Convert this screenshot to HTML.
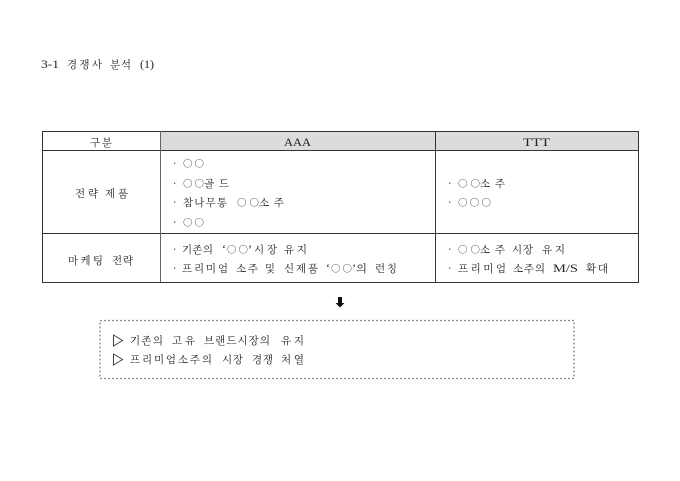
<!DOCTYPE html>
<html lang="ko">
<head>
<meta charset="utf-8">
<style>
html,body{margin:0;padding:0;background:#fff;width:680px;height:481px;overflow:hidden}
svg{display:block}
text{font-family:"Noto Serif CJK KR","Noto Serif CJK SC","Liberation Serif",serif;font-size:10.500px;fill:#222}
text.l{font-family:"Liberation Serif",serif;font-size:12px;fill:#222}
text.c{font-size:9.500px;fill:#333}
</style>
</head>
<body>
<svg width="680" height="481" viewBox="0 0 680 481" xmlns="http://www.w3.org/2000/svg">
<rect width="680" height="481" fill="#fff"/>
<text class="l" x="41" y="68" textLength="18" lengthAdjust="spacingAndGlyphs">3-1</text>
<text x="67" y="68" textLength="35" lengthAdjust="spacing">경쟁사</text>
<text x="110" y="68" textLength="21" lengthAdjust="spacing">분석</text>
<text class="l" x="140" y="68" textLength="14" lengthAdjust="spacingAndGlyphs">(1)</text>

<rect x="160" y="131" width="478" height="19" fill="#dcdcdc"/>
<g stroke="#333" stroke-width="1" fill="none" shape-rendering="crispEdges">
<rect x="42.500" y="131.500" width="596" height="151"/>
<line x1="42" y1="150.500" x2="638" y2="150.500"/>
<line x1="42" y1="233.500" x2="638" y2="233.500"/>
<line x1="160.500" y1="131" x2="160.500" y2="282" stroke="#666"/>
<line x1="435.500" y1="131" x2="435.500" y2="282"/>
</g>

<text x="90" y="146" textLength="22" lengthAdjust="spacing">구분</text>
<text class="l" x="284" y="146" textLength="27" lengthAdjust="spacingAndGlyphs">AAA</text>
<text class="l" x="523" y="146" textLength="27" lengthAdjust="spacingAndGlyphs">TTT</text>

<text x="75" y="197" textLength="23" lengthAdjust="spacing">전략</text>
<text x="105" y="197" textLength="23" lengthAdjust="spacing">제품</text>
<text x="68" y="264" textLength="35" lengthAdjust="spacing">마케팅</text>
<text x="112" y="264" textLength="21" lengthAdjust="spacing">전략</text>

<text x="173" y="167">·</text>
<text class="c" x="183" y="167" textLength="21" lengthAdjust="spacing">○○</text>
<text x="173" y="187">·</text>
<text class="c" x="183" y="187" textLength="21" lengthAdjust="spacing">○○</text>
<text x="204" y="187" textLength="25" lengthAdjust="spacing">골드</text>
<text x="173" y="206">·</text>
<text x="183" y="206" textLength="44" lengthAdjust="spacing">참나무통</text>
<text class="c" x="237" y="206" textLength="22" lengthAdjust="spacing">○○</text>
<text x="259" y="206" textLength="25" lengthAdjust="spacing">소주</text>
<text x="173" y="226">·</text>
<text class="c" x="183" y="226" textLength="21" lengthAdjust="spacing">○○</text>

<text x="448" y="187">·</text>
<text class="c" x="458" y="187" textLength="22" lengthAdjust="spacing">○○</text>
<text x="480" y="187" textLength="25" lengthAdjust="spacing">소주</text>
<text x="448" y="206">·</text>
<text class="c" x="458" y="206" textLength="33" lengthAdjust="spacing">○○○</text>

<text x="173" y="253">·</text>
<text x="182" y="253" textLength="31" lengthAdjust="spacing">기존의</text>
<text class="l" x="222" y="253">‘</text>
<text class="c" x="227" y="253" textLength="21" lengthAdjust="spacing">○○</text>
<text class="l" x="248" y="253">’</text>
<text x="254" y="253" textLength="23" lengthAdjust="spacing">시장</text>
<text x="284" y="253" textLength="23" lengthAdjust="spacing">유지</text>

<text x="173" y="272">·</text>
<text x="182" y="272" textLength="46" lengthAdjust="spacing">프리미엄</text>
<text x="236" y="272" textLength="22" lengthAdjust="spacing">소주</text>
<text x="265" y="272" textLength="10" lengthAdjust="spacingAndGlyphs">및</text>
<text x="284" y="272" textLength="34" lengthAdjust="spacing">신제품</text>
<text class="l" x="326" y="272">‘</text>
<text class="c" x="331" y="272" textLength="21" lengthAdjust="spacing">○○</text>
<text class="l" x="352" y="272">’</text>
<text x="356" y="272" textLength="11" lengthAdjust="spacingAndGlyphs">의</text>
<text x="375" y="272" textLength="22" lengthAdjust="spacing">런칭</text>

<text x="448" y="253">·</text>
<text class="c" x="458" y="253" textLength="22" lengthAdjust="spacing">○○</text>
<text x="480" y="253" textLength="25" lengthAdjust="spacing">소주</text>
<text x="512" y="253" textLength="21" lengthAdjust="spacing">시장</text>
<text x="542" y="253" textLength="23" lengthAdjust="spacing">유지</text>

<text x="448" y="272">·</text>
<text x="458" y="272" textLength="48" lengthAdjust="spacing">프리미엄</text>
<text x="513" y="272" textLength="32" lengthAdjust="spacing">소주의</text>
<text class="l" x="553" y="272" textLength="25" lengthAdjust="spacingAndGlyphs">M/S</text>
<text x="586" y="272" textLength="22" lengthAdjust="spacing">확대</text>

<path d="M338 297h4v6h2.500l-4.500 4.500-4.500-4.500h2.500z" fill="#111"/>

<rect x="100" y="320.500" width="474" height="58" fill="none" stroke="#888" stroke-width="1.300" stroke-dasharray="2 2"/>

<path d="M113.500 335v11l9 -5.500z" fill="none" stroke="#444" stroke-width="1"/>
<path d="M113.500 354v11l9 -5.500z" fill="none" stroke="#444" stroke-width="1"/>

<text x="130" y="344" textLength="33" lengthAdjust="spacing">기존의</text>
<text x="172" y="344" textLength="23" lengthAdjust="spacing">고유</text>
<text x="204" y="344" textLength="66" lengthAdjust="spacing">브랜드시장의</text>
<text x="281" y="344" textLength="23" lengthAdjust="spacing">유지</text>

<text x="130" y="363" textLength="82" lengthAdjust="spacing">프리미엄소주의</text>
<text x="222" y="363" textLength="21" lengthAdjust="spacing">시장</text>
<text x="252" y="363" textLength="21" lengthAdjust="spacing">경쟁</text>
<text x="281" y="363" textLength="23" lengthAdjust="spacing">처열</text>
</svg>
</body>
</html>
